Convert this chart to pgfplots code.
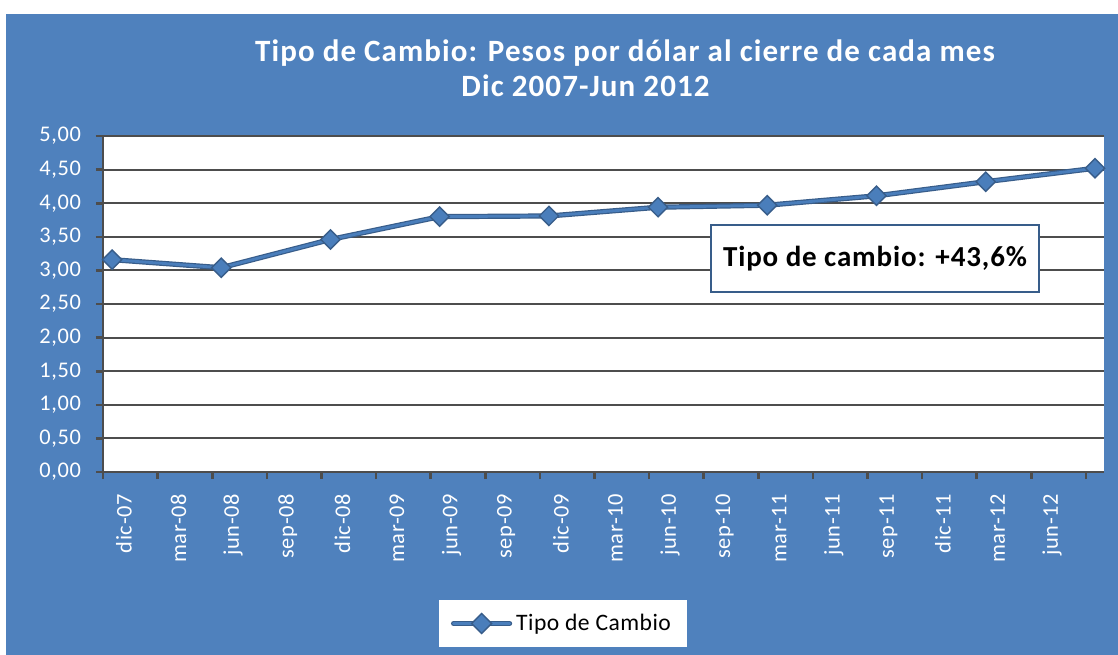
\documentclass[border=0pt]{standalone}
\usepackage{fontspec}
\setmainfont{Carlito}
\usepackage{pgfplots}
\pgfplotsset{compat=1.18}
\definecolor{bgblue}{HTML}{4F81BD}
\definecolor{lineblue}{HTML}{4A7EBB}
\definecolor{darkblue}{HTML}{385D8A}
\definecolor{gridgray}{HTML}{4D4D4D}
\begin{document}
\begin{tikzpicture}
% background
\fill[white] (0bp,0bp) rectangle (559bp,327.5bp);
\fill[bgblue] (3bp,0bp) rectangle (559bp,320.5bp);
% titles
\node[anchor=base, text=white, font=\fontsize{15.5bp}{18bp}\selectfont\bfseries\addfontfeature{LetterSpace=3.5}] at (312.5bp,296.5bp) {Tipo de Cambio: Pesos por dólar al cierre de cada mes};
\node[anchor=base, text=white, font=\fontsize{15.5bp}{18bp}\selectfont\bfseries\addfontfeature{LetterSpace=3.5}] at (292.75bp,279bp) {Dic 2007-Jun 2012};
\begin{axis}[
  at={(51.5bp,91.5bp)}, anchor=south west,
  scale only axis, width=500.5bp, height=168bp,
  xmin=-0.5, xmax=54.5, ymin=0, ymax=5,
  axis background/.style={fill=white},
  axis lines*=left,
  axis line style={-, draw=gridgray, line width=1.3bp},
  ymajorgrids, grid style={draw=gridgray, line width=1bp},
  tick align=outside,
  major tick length=3.5bp,
  tick style={draw=gridgray, line width=1.3bp},
  ytick={0,0.5,...,5},
  yticklabels={{0,00},{0,50},{1,00},{1,50},{2,00},{2,50},{3,00},{3,50},{4,00},{4,50},{5,00}},
  yticklabel style={text=white, font=\fontsize{11.2bp}{13bp}\selectfont\addfontfeature{LetterSpace=3}, xshift=-4bp},
  xtick={-0.5,2.5,...,53.5},
  xticklabels={dic-07,mar-08,jun-08,sep-08,dic-08,mar-09,jun-09,sep-09,dic-09,mar-10,jun-10,sep-10,mar-11,jun-11,sep-11,dic-11,mar-12,jun-12,{}},
  xticklabel style={text=white, font=\fontsize{11.2bp}{13bp}\selectfont\addfontfeature{LetterSpace=3}, xshift=10.5bp, yshift=-4bp, rotate=90, anchor=east},
  legend style={at={(0.4595,-0.4509)}, anchor=center, fill=white, draw=none,
    font=\fontsize{11.8bp}{14bp}\selectfont\addfontfeature{LetterSpace=2}, inner xsep=6bp, inner ysep=2.5bp, minimum height=18.5bp},
  legend image code/.code={
    \draw[draw=darkblue, line width=2.6bp, line cap=round] (0bp,0bp) -- (28bp,0bp);
    \draw[draw=lineblue, line width=1.4bp, line cap=round] (0bp,0bp) -- (28bp,0bp);
    \draw[fill=lineblue, draw=darkblue, line width=0.7bp] (9bp,0bp) -- (14bp,5bp) -- (19bp,0bp) -- (14bp,-5bp) -- cycle;
  },
]
\addplot[forget plot, draw=darkblue, line width=2.6bp] coordinates {
(0,3.16) (6,3.04) (12,3.46) (18,3.80) (24,3.81) (30,3.94) (36,3.97) (42,4.11) (48,4.32) (54,4.52)
};
\addplot[draw=lineblue, line width=1.4bp, mark=square*, mark size=3.4bp,
  mark options={rotate=45, fill=lineblue, draw=darkblue, line width=0.7bp}] coordinates {
(0,3.16) (6,3.04) (12,3.46) (18,3.80) (24,3.81) (30,3.94) (36,3.97) (42,4.11) (48,4.32) (54,4.52)
};
\addlegendentry{Tipo de Cambio}
\end{axis}
% annotation box
\node[draw=darkblue, line width=1bp, fill=white, minimum width=164bp, minimum height=33.5bp, anchor=center,
  font=\fontsize{14.5bp}{17bp}\selectfont\bfseries\addfontfeature{LetterSpace=3}] at (437.5bp,198.25bp) {Tipo de cambio: +43,6\%};
\pgfresetboundingbox
\useasboundingbox (0bp,0bp) rectangle (559bp,327.5bp);
\end{tikzpicture}
\end{document}
